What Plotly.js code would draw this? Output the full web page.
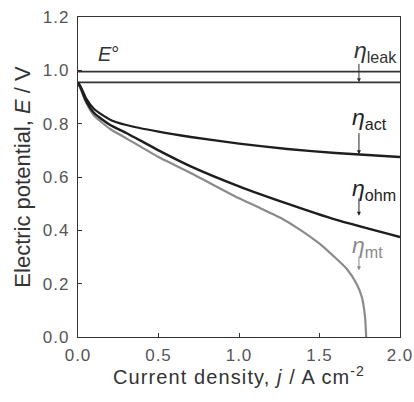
<!DOCTYPE html>
<html><head><meta charset="utf-8">
<script src="https://cdn.plot.ly/plotly-3.0.1.min.js"></script>
<style>html,body{margin:0;padding:0;background:#fff}#plot{width:414px;height:402px}
.xtick text,.ytick text{letter-spacing:1px}
.g-xtitle text{letter-spacing:1.1px}
.g-xtitle{transform:translate(0px,6px)}
</style>
</head><body><div id="plot"></div>
<script>
// Reference lines
const jLine = [0, 2.0];
const eStd = 0.995;       // E°
const eOpen = 0.955;      // after leak loss

// Curves
const jAct = [0, 0.02, 0.05, 0.1, 0.2, 0.3, 0.5, 0.7, 1.0, 1.3, 1.6, 2.0];
const eAct = [0.955, 0.935, 0.895, 0.855, 0.815, 0.795, 0.77, 0.75, 0.725, 0.705, 0.69, 0.675];
const jOhm = [0, 0.02, 0.05, 0.1, 0.2, 0.3, 0.5, 0.7, 1.0, 1.3, 1.6, 2.0];
const eOhm = [0.955, 0.93, 0.885, 0.84, 0.795, 0.765, 0.70, 0.64, 0.565, 0.50, 0.44, 0.375];
const jMt = [0, 0.02, 0.05, 0.1, 0.2, 0.3, 0.5, 0.7, 1.0, 1.13, 1.26, 1.38, 1.5, 1.6, 1.67, 1.73, 1.763, 1.783, 1.79];
const eMt = [0.955, 0.925, 0.88, 0.83, 0.78, 0.745, 0.675, 0.615, 0.52, 0.484, 0.446, 0.402, 0.35, 0.296, 0.255, 0.20, 0.15, 0.075, 0.0];

// Tick values
const xTicks = [0, 0.5, 1.0, 1.5, 2.0];
const xTickText = ['0.0', '0.5', '1.0', '1.5', '2.0'];
const yTicks = [0, 0.2, 0.4, 0.6, 0.8, 1.0, 1.2];
const yTickText = ['0.0', '0.2', '0.4', '0.6', '0.8', '1.0', '1.2'];

// Loss labels
const labelSub = ['leak', 'act', 'ohm', 'mt'];
const labelX = [1.70, 1.69, 1.69, 1.69];
const labelY = [1.07, 0.82, 0.553, 0.338];
const arrowX = 1.745;
const arrowFrom = [1.03, 0.77, 0.525, 0.307];
const arrowTo = [0.955, 0.685, 0.455, 0.25];
const labelColor = ['#333', '#222', '#222', '#8a8a8a'];

const black = '#1e1e1e';
const grey = '#8a8a8a';
const fam = 'Liberation Sans, Arial, sans-serif';

const traces = [
  {x: jLine, y: [eStd, eStd], mode: 'lines', line: {color: '#333', width: 1.6}, hoverinfo: 'skip'},
  {x: jLine, y: [eOpen, eOpen], mode: 'lines', line: {color: '#333', width: 1.6}, hoverinfo: 'skip'},
  {x: jMt, y: eMt, mode: 'lines', line: {color: grey, width: 2.2, shape: 'spline', smoothing: 0.5}},
  {x: jOhm, y: eOhm, mode: 'lines', line: {color: black, width: 2.5, shape: 'spline', smoothing: 0.6}},
  {x: jAct, y: eAct, mode: 'lines', line: {color: black, width: 2.3, shape: 'spline', smoothing: 0.6}}
];

const annotations = [];
annotations.push({x: 0.11, y: 1.06, xref: 'x', yref: 'y', text: '<i>E</i>°', showarrow: false,
  xanchor: 'left', font: {family: fam, size: 20, color: '#333'}});
for (let i = 0; i < labelSub.length; i++) {
  annotations.push({x: labelX[i], y: labelY[i], xref: 'x', yref: 'y',
    text: '<i>η</i><sub>' + labelSub[i] + '</sub>',
    showarrow: false, xanchor: 'left',
    font: {family: fam, size: 23, color: labelColor[i]}});
  annotations.push({x: arrowX, y: arrowTo[i], ax: arrowX, ay: arrowFrom[i], xref: 'x', yref: 'y',
    axref: 'x', ayref: 'y', text: '', showarrow: true, arrowhead: 2, arrowsize: 0.8, arrowwidth: 1,
    arrowcolor: labelColor[i], standoff: 0});
}

const axisCommon = {
  showgrid: false, zeroline: false, showline: true, linecolor: '#333', linewidth: 1.2,
  mirror: true, ticks: 'inside', ticklen: 4, tickcolor: '#333', tickwidth: 1,
  tickfont: {family: fam, size: 17, color: '#555'}
};

const layout = {
  width: 414, height: 402,
  margin: {l: 78, r: 14, t: 17, b: 65},
  paper_bgcolor: '#fff', plot_bgcolor: '#fff',
  showlegend: false,
  font: {family: fam},
  xaxis: Object.assign({}, axisCommon, {range: [0, 2.0], tickvals: xTicks, ticktext: xTickText,
    ticklabelstandoff: 2,
    title: {text: 'Current density, <i>j</i> / A cm<sup>-2</sup>', standoff: 0,
      font: {family: fam, size: 20, color: '#333'}}}),
  yaxis: Object.assign({}, axisCommon, {range: [0, 1.2], tickvals: yTicks, ticktext: yTickText,
    ticklabelstandoff: 4,
    title: {text: 'Electric potential, <i>E</i> / V', standoff: 6,
      font: {family: fam, size: 22, color: '#333'}}}),
  annotations: annotations
};

Plotly.newPlot('plot', traces, layout, {staticPlot: true, displayModeBar: false});
</script>
</body></html>
